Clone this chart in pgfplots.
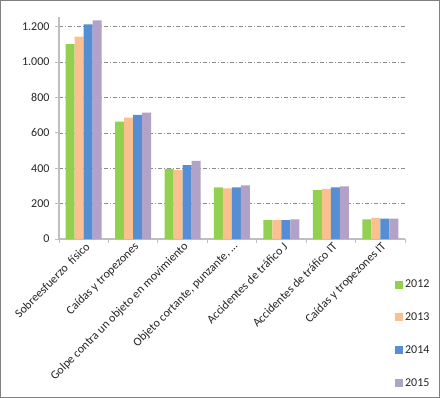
\documentclass[border=0pt]{standalone}
\usepackage{pgfplots}
\pgfplotsset{compat=1.18}
\usepackage{fontspec}
\setmainfont{Carlito}
\definecolor{c12}{HTML}{92D050}
\definecolor{c13}{HTML}{FAC090}
\definecolor{c14}{HTML}{558ED5}
\definecolor{c15}{HTML}{B3A2C7}
\definecolor{axgray}{HTML}{BFBFBF}
\definecolor{gridgray}{HTML}{8C8C8C}
\begin{document}
\begin{tikzpicture}
\fill[white] (0,0) rectangle (440bp,398bp);
\draw[gray, line width=1bp] (0.5bp,0.5bp) rectangle (439.5bp,397.5bp);
\begin{axis}[
  at={(59bp,159bp)}, anchor=south west,
  scale only axis, width=346bp, height=222bp,
  xmin=-0.5, xmax=6.5, ymin=0, ymax=1255,
  ybar=0pt, bar width=9bp,
  axis x line*=bottom, axis y line*=left,
  axis line style={axgray, line width=1.2bp},
  xtick={0,1,2,3,4,5,6},
  xticklabels={Sobreesfuerzo\ \ físico, Caídas y tropezones, Golpe contra un objeto en movimiento, {Objeto cortante, punzante, \ldots}, Accidentes de tráfico J, Accidentes de tráfico IT, Caídas y tropezones IT},
  major x tick style={draw=none},
  minor xtick={-0.5,0.5,1.5,2.5,3.5,4.5,5.5,6.5},
  minor x tick style={axgray, line width=0.8bp},
  minor tick length=4bp,
  tick align=outside,
  xticklabel style={rotate=45, anchor=east, font=\fontsize{12bp}{14bp}\selectfont, text=black!85, xshift=5bp, yshift=-4bp},
  ytick={0,200,400,600,800,1000,1200},
  ymajorgrids,
  grid style={gridgray, dash pattern=on 4bp off 2bp on 1bp off 2bp, line width=0.6bp},
  major y tick style={axgray, line width=0.8bp},
  major tick length=4bp,
  yticklabel style={font=\fontsize{12bp}{14bp}\selectfont, text=black!85, xshift=-2bp},
  /pgf/number format/.cd, 1000 sep={.}, assume math mode=true,
  /pgfplots/.cd,
  legend style={draw=none, fill=none, at={(0.971,-0.175)}, anchor=north west,
    font=\fontsize{12bp}{14bp}\selectfont, text=black!85, row sep=19.5bp, inner sep=0pt},
  legend cell align=left,
  legend image code/.code={\fill (0bp,-4bp) rectangle (8bp,4bp);},
  clip=false,
]
\addplot[fill=c12, draw=none] coordinates {(0,1102) (1,663) (2,396) (3,292) (4,106) (5,277) (6,111)};
\addplot[fill=c13, draw=none] coordinates {(0,1144) (1,686) (2,390) (3,286) (4,106) (5,283) (6,120)};
\addplot[fill=c14, draw=none] coordinates {(0,1214) (1,701) (2,418) (3,292) (4,106) (5,292) (6,115)};
\addplot[fill=c15, draw=none] coordinates {(0,1236) (1,714) (2,441) (3,303) (4,111) (5,298) (6,115)};
\legend{2012,2013,2014,2015}
\end{axis}
\end{tikzpicture}
\end{document}
